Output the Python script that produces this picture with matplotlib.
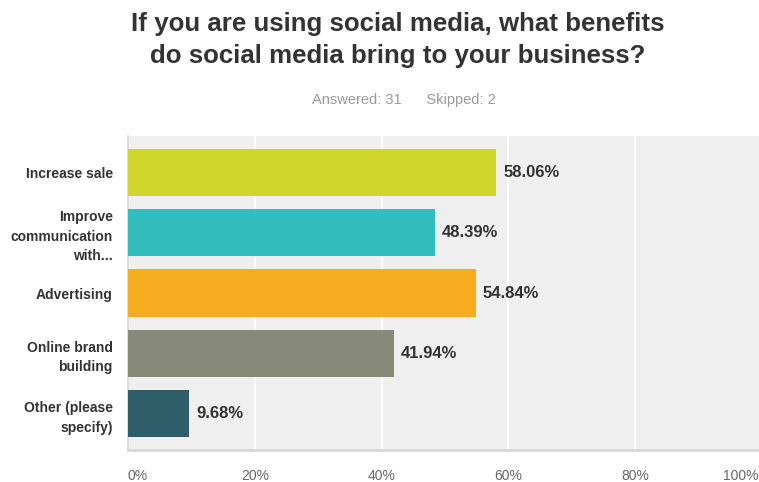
import matplotlib.pyplot as plt
from matplotlib.transforms import ScaledTranslation

plt.rcParams["font.family"] = ["Liberation Sans", "DejaVu Sans"]

# survey answers, top to bottom
categories = [
    "Increase sale",
    "Improve\ncommunication\nwith...",
    "Advertising",
    "Online brand\nbuilding",
    "Other (please\nspecify)",
]
percent = [58.06, 48.39, 54.84, 41.94, 9.68]
bar_colors = ["#cfd52a", "#33bdbd", "#f5ac1f", "#888a79", "#2e5e6a"]
tick_values = [0, 20, 40, 60, 80, 100]
tick_labels = ["0%", "20%", "40%", "60%", "80%", "100%"]

W, H = 759, 482
fig = plt.figure(figsize=(W / 100, H / 100), dpi=100)
fig.patch.set_facecolor("white")

# plot area runs slightly past the right edge, as in the original export
ax = fig.add_axes([128 / W, (H - 450) / H, (762 - 128) / W, (450 - 136) / H])
ax.set_facecolor("#efefef")

ypos = list(range(len(categories)))
ax.barh(ypos, percent, height=0.78, color=bar_colors, zorder=3)

for y, v in zip(ypos, percent):
    ax.annotate(f"{v:.2f}%", xy=(v, y), xytext=(7, 0), textcoords="offset pixels",
                va="center", ha="left", fontsize=12, fontweight="bold",
                color="#333333", zorder=4)

ax.set_xlim(0, 100)
ax.set_ylim(4.6, -0.6)
ax.set_xticks(tick_values)
ax.set_xticklabels(tick_labels, fontsize=10, color="#666666")
ax.set_yticks(ypos)
ax.set_yticklabels(categories, fontsize=10, fontweight="bold", color="#333333",
                   linespacing=1.5)
ax.tick_params(axis="x", length=0, pad=14)
ax.tick_params(axis="y", length=0, pad=11)

# first and last x labels sit inside the plot edges
xl = ax.get_xticklabels()
xl[0].set_ha("left")
xl[-1].set_ha("right")
xl[-1].set_transform(xl[-1].get_transform()
                     + ScaledTranslation(-3 / 100, 0, fig.dpi_scale_trans))

ax.grid(axis="x", color="white", linewidth=1.5, zorder=1)
ax.set_axisbelow(True)
for side in ["top", "right"]:
    ax.spines[side].set_visible(False)
ax.spines["left"].set_color("#d6d6d6")
ax.spines["left"].set_linewidth(1.2)
ax.spines["bottom"].set_color("#d6d6d6")
ax.spines["bottom"].set_linewidth(2)

fig.text(398 / W, 1 - 40 / H,
         "If you are using social media, what benefits\ndo social media bring to your business?",
         ha="center", va="center", fontsize=18.6, fontweight="bold", color="#333333",
         linespacing=1.45)
fig.text(404 / W, 1 - 100 / H, "Answered: 31      Skipped: 2",
         ha="center", va="center", fontsize=10.5, color="#9a9a9a")

fig.savefig("out.png", dpi=100)
